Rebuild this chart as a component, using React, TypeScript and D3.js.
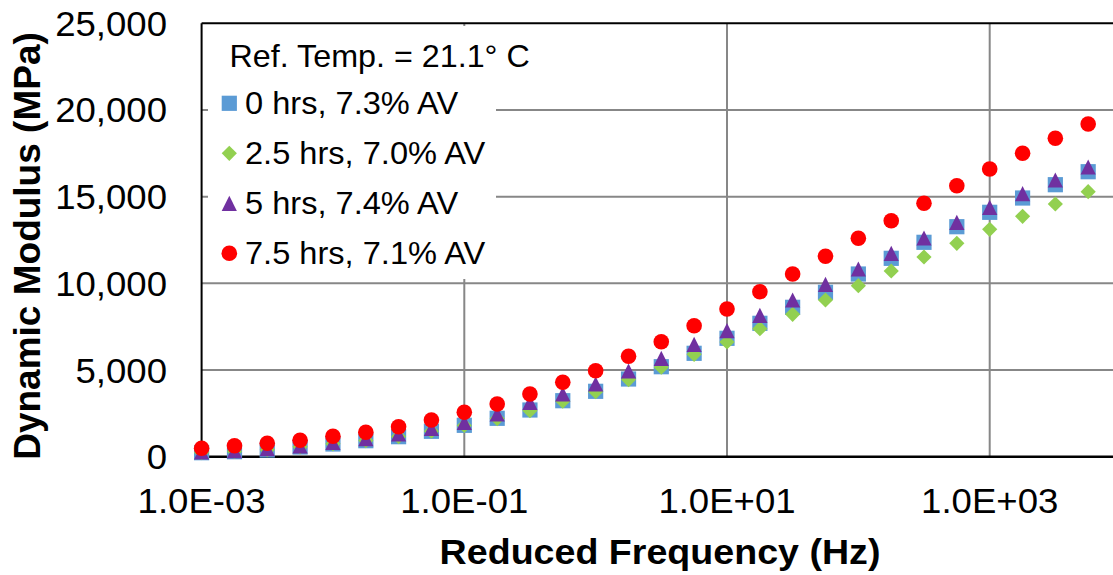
import React from "react";
import * as d3 from "d3";

const frequencies = [
  0.001, 0.00178, 0.00316, 0.00562, 0.01, 0.0178, 0.0316, 0.0562, 0.1, 0.178,
  0.316, 0.562, 1, 1.78, 3.16, 5.62, 10, 17.8, 31.6, 56.2, 100, 178, 316, 562,
  1000, 1780, 3160, 5620,
];

const hrs0 = [
  230, 288, 386, 560, 733, 923, 1154, 1465, 1811, 2215, 2694, 3230, 3772, 4482,
  5191, 5964, 6829, 7694, 8617, 9482, 10538, 11443, 12367, 13267, 14097, 14922,
  15690, 16439,
];
const hrs25 = [
  240, 300, 400, 570, 740, 930, 1160, 1470, 1800, 2200, 2650, 3200, 3750, 4450,
  5160, 5906, 6616, 7383, 8213, 9038, 9863, 10711, 11519, 12309, 13116, 13866,
  14576, 15285,
];
const hrs5 = [
  271, 346, 461, 617, 830, 1038, 1309, 1638, 1984, 2463, 3138, 3617, 4193, 4943,
  5675, 6483, 7268, 8156, 9038, 9944, 10826, 11732, 12615, 13520, 14385, 15170,
  15960, 16710,
];
const hrs75 = [
  484, 634, 773, 946, 1177, 1407, 1731, 2117, 2561, 3040, 3617, 4292, 4960,
  5790, 6633, 7556, 8520, 9517, 10538, 11559, 12597, 13612, 14616, 15632, 16595,
  17500, 18365, 19190,
];

const seriesNames = [
  "0 hrs, 7.3% AV",
  "2.5 hrs, 7.0% AV",
  "5 hrs, 7.4% AV",
  "7.5 hrs, 7.1% AV",
];
const legendTitle = "Ref. Temp. = 21.1° C";
const xTicks = [0.001, 0.1, 10, 1000];
const xTickLabels = ["1.0E-03", "1.0E-01", "1.0E+01", "1.0E+03"];
const yTicks = [0, 5000, 10000, 15000, 20000, 25000];
const xTitle = "Reduced Frequency (Hz)";
const yTitle = "Dynamic Modulus (MPa)";

const W = 1113;
const H = 575;
const FONT = "'Liberation Sans', Arial, Helvetica, sans-serif";
const SX = 1.045;

type Shape = "square" | "diamond" | "triangle" | "circle";
const seriesDefs: { values: number[]; shape: Shape; color: string }[] = [
  { values: hrs0, shape: "square", color: "#5B9BD5" },
  { values: hrs25, shape: "diamond", color: "#92D050" },
  { values: hrs5, shape: "triangle", color: "#7030A0" },
  { values: hrs75, shape: "circle", color: "#FF0000" },
];

function Marker({ x, y, shape, color }: { x: number; y: number; shape: Shape; color: string }) {
  const s = 7.6;
  if (shape === "square")
    return <rect x={x - s} y={y - s} width={2 * s} height={2 * s} fill={color} />;
  if (shape === "diamond")
    return (
      <path
        d={`M${x},${y - s}L${x + s},${y}L${x},${y + s}L${x - s},${y}Z`}
        fill={color}
      />
    );
  if (shape === "triangle")
    return (
      <path
        d={`M${x},${y - s}L${x + s},${y + s}L${x - s},${y + s}Z`}
        fill={color}
      />
    );
  return <circle cx={x} cy={y} r={7.8} fill={color} />;
}

function Txt({
  x,
  y,
  size,
  anchor = "start",
  bold = false,
  children,
}: {
  x: number;
  y: number;
  size: number;
  anchor?: string;
  bold?: boolean;
  children: React.ReactNode;
}) {
  return (
    <text
      transform={`translate(${x},${y}) scale(${SX},1)`}
      fontSize={size}
      textAnchor={anchor}
      fontWeight={bold ? "bold" : "normal"}
      fill="#000"
    >
      {children}
    </text>
  );
}

export default function App() {
  const left = 201.6;
  const top = 23.3;
  const bottom = 456.7;
  const decade = 131.35;
  const x = d3
    .scaleLog()
    .domain([0.001, 10000])
    .range([left, left + decade * 7]);
  const y = d3.scaleLinear().domain([0, 25000]).range([bottom, top]);
  const right = W + 5;
  const fmt = d3.format(",");

  const legend = { x: 208, y: 26, w: 288, h: 253 };
  const legendRows = [103.3, 153.3, 203.3, 253.3];

  return (
    <svg
      width={W}
      height={H}
      style={{ position: "absolute", left: 0, top: 0, background: "#fff" }}
      fontFamily={FONT}
    >
      <rect x={0} y={0} width={W} height={H} fill="#fff" />
      {/* gridlines */}
      {yTicks.slice(1, -1).map((t) => (
        <line
          key={"gy" + t}
          x1={left}
          x2={right}
          y1={y(t)}
          y2={y(t)}
          stroke="#878787"
          strokeWidth={2}
        />
      ))}
      {xTicks.slice(1).map((t) => (
        <line
          key={"gx" + t}
          x1={x(t)}
          x2={x(t)}
          y1={top}
          y2={bottom}
          stroke="#878787"
          strokeWidth={2}
        />
      ))}
      {/* plot border */}
      <line x1={left} x2={right} y1={top} y2={top} stroke="#000" strokeWidth={2} />
      <line x1={left} x2={left} y1={top} y2={bottom} stroke="#000" strokeWidth={2} />
      <line x1={left - 1} x2={right} y1={bottom} y2={bottom} stroke="#000" strokeWidth={2.5} />

      {/* legend background */}
      <rect x={legend.x} y={legend.y} width={legend.w} height={legend.h} fill="#fff" />

      {/* data */}
      {seriesDefs.map((s, si) => (
        <g key={"s" + si}>
          {s.values.map((v, i) => (
            <Marker
              key={i}
              x={x(frequencies[i])}
              y={y(v)}
              shape={s.shape}
              color={s.color}
            />
          ))}
        </g>
      ))}

      {/* legend */}
      <Txt x={229.5} y={67} size={30.9}>
        {legendTitle}
      </Txt>
      {seriesDefs.map((s, i) => (
        <g key={"l" + i}>
          <Marker x={229.3} y={legendRows[i]} shape={s.shape} color={s.color} />
          <Txt x={245} y={legendRows[i] + 10.5} size={31.2}>
            {seriesNames[i]}
          </Txt>
        </g>
      ))}

      {/* y tick labels */}
      {yTicks.map((t) => (
        <Txt key={"yt" + t} x={167} y={y(t) + 12.5} size={35} anchor="end">
          {fmt(t)}
        </Txt>
      ))}
      {/* x tick labels */}
      {xTicks.map((t, i) => (
        <Txt key={"xt" + t} x={x(t)} y={513.3} size={35} anchor="middle">
          {xTickLabels[i]}
        </Txt>
      ))}
      {/* axis titles */}
      <Txt x={660} y={563.5} size={36} anchor="middle" bold>
        {xTitle}
      </Txt>
      <text
        transform="translate(40,246) rotate(-90)"
        fontSize={37}
        fontWeight="bold"
        textAnchor="middle"
        fill="#000"
      >
        {yTitle}
      </text>
    </svg>
  );
}
